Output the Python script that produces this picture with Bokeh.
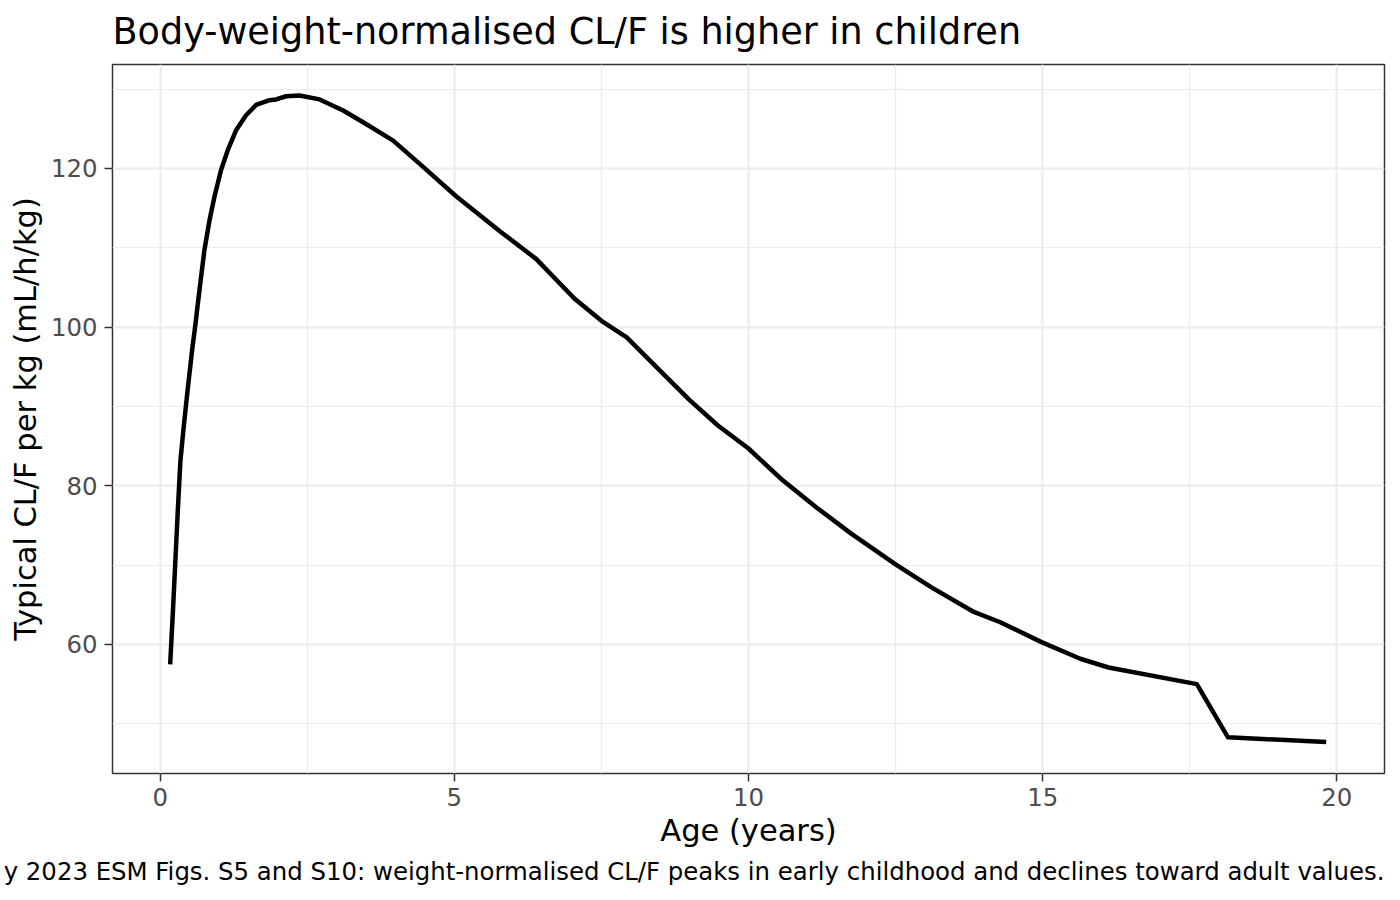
from bokeh.plotting import figure
from bokeh.models import Range1d, FixedTicker, Title
from bokeh.embed import file_html
from bokeh.resources import INLINE

age = [0.17, 0.215, 0.255, 0.30, 0.345, 0.40, 0.46, 0.543, 0.60, 0.667, 0.752, 0.837,
       0.922, 1.035, 1.149, 1.29, 1.46, 1.63, 1.86, 1.97, 2.14, 2.37, 2.71, 3.11,
       3.50, 3.96, 4.47, 5.03, 5.79, 6.39, 7.04, 7.50, 7.93, 8.47, 9.00, 9.48,
       10.00, 10.55, 11.15, 11.74, 12.50, 13.11, 13.83, 14.28, 14.98, 15.64, 16.12,
       17.62, 18.15, 19.82]
clf_per_kg = [57.5, 63.9, 70.0, 76.9, 83.2, 87.4, 91.6, 97.1, 100.4, 104.6, 109.7, 113.4,
              116.4, 119.8, 122.3, 124.8, 126.7, 128.0, 128.6, 128.7, 129.1, 129.2, 128.7, 127.3,
              125.6, 123.5, 120.2, 116.5, 112.0, 108.6, 103.6, 100.8, 98.7, 94.7, 90.8, 87.6,
              84.7, 80.9, 77.3, 74.0, 70.1, 67.2, 64.1, 62.8, 60.3, 58.2, 57.1,
              55.0, 48.3, 47.7]

x_ticks = [0, 5, 10, 15, 20]
x_minor = [2.5, 7.5, 12.5, 17.5]
y_ticks = [60, 80, 100, 120]
y_minor = [50, 70, 90, 110, 130]

title_text = "Body-weight-normalised CL/F is higher in children"
x_label = "Age (years)"
y_label = "Typical CL/F per kg (mL/h/kg)"
caption_text = ("y 2023 ESM Figs. S5 and S10: weight-normalised CL/F peaks in early "
                "childhood and declines toward adult values.")

FONT = "DejaVu Sans"

p = figure(width=1386, height=890, output_backend="svg", toolbar_location=None,
           x_range=Range1d(-0.81, 20.81), y_range=Range1d(43.74, 133.1),
           min_border_left=112, min_border_right=2, min_border_top=64,
           min_border_bottom=117)

p.title.text = title_text
p.title.text_font = FONT
p.title.text_font_size = "36.6px"
p.title.text_font_style = "normal"
p.title.text_color = "black"
p.title.align = "left"
p.title.vertical_align = "top"
p.title.standoff = 19

p.line(age, clf_per_kg, line_color="black", line_width=4.5, line_join="round")

p.xaxis.ticker = FixedTicker(ticks=x_ticks, minor_ticks=x_minor)
p.yaxis.ticker = FixedTicker(ticks=y_ticks, minor_ticks=y_minor)

for ax in (p.xaxis, p.yaxis):
    ax.axis_line_color = None
    ax.major_tick_line_color = "#333333"
    ax.major_tick_line_width = 1.5
    ax.major_tick_out = 8
    ax.major_tick_in = 0
    ax.minor_tick_line_color = None
    ax.major_label_text_font = FONT
    ax.major_label_text_font_size = "24.4px"
    ax.major_label_text_color = "#4D4D4D"
    ax.major_label_standoff = 6
    ax.axis_label_text_font = FONT
    ax.axis_label_text_font_size = "30.5px"
    ax.axis_label_text_font_style = "normal"
    ax.axis_label_text_color = "black"

p.xaxis.axis_label = x_label
p.yaxis.axis_label = y_label
p.xaxis.axis_label_standoff = 4
p.yaxis.major_label_standoff = 7
p.yaxis.axis_label_standoff = 5

for g in (p.xgrid, p.ygrid):
    g.grid_line_color = "#EBEBEB"
    g.grid_line_width = 2
    g.minor_grid_line_color = "#EBEBEB"
    g.minor_grid_line_width = 1.2

p.outline_line_color = "#333333"
p.outline_line_width = 1.5
p.background_fill_color = "white"
p.border_fill_color = "white"

cap = Title(text=caption_text, align="right", text_font=FONT, text_font_size="24.4px",
            text_font_style="normal", text_color="black", standoff=8)
p.add_layout(cap, "below")

open("out.html", "w").write(file_html(p, INLINE))
